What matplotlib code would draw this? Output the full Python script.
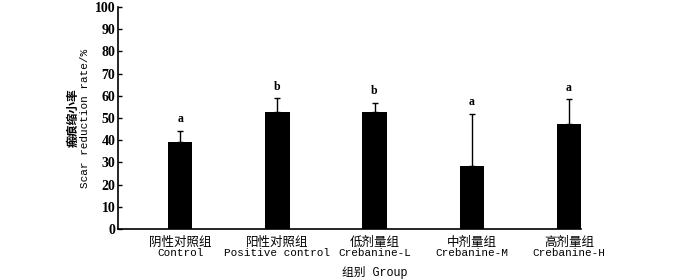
import matplotlib
matplotlib.use("Agg")
import matplotlib.pyplot as plt
import matplotlib.transforms as mtransforms
import numpy as np

groups_cn = ["阴性对照组", "阳性对照组", "低剂量组", "中剂量组", "高剂量组"]
groups_en = ["Control", "Positive control", "Crebanine-L", "Crebanine-M", "Crebanine-H"]
means = [39.3, 52.5, 52.8, 28.5, 47.4]
sds = [5.0, 6.4, 4.1, 23.3, 11.0]
letters = ["a", "b", "b", "a", "a"]
yticks = list(range(0, 101, 10))

cjk = ["Noto Sans CJK SC", "DejaVu Sans"]
mono = "Liberation Mono"

fig = plt.figure(figsize=(7, 2.8), dpi=100)
ax = fig.add_axes([0.1686, 0.182, 0.6614, 0.793])

x = np.arange(len(means))
ax.bar(x, means, width=0.25, color="black", zorder=2)
ax.errorbar(x, means, yerr=[np.zeros(len(sds)), sds], fmt="none",
            ecolor="black", elinewidth=1, capsize=2.5, capthick=1, zorder=1)
for xi, m, s, lt in zip(x, means, sds, letters):
    ax.text(xi, m + s + 2.5, lt, ha="center", va="bottom",
            family="Liberation Serif", fontweight="bold", fontsize=8.5)

ax.set_xlim(-0.64, 4.125)
ax.set_ylim(0, 100)
ax.set_yticks(yticks)
ax.set_yticklabels([str(t) for t in yticks], family="Liberation Serif",
                   fontsize=10, fontweight="bold")
ax.tick_params(axis="y", direction="in", length=3, width=1, pad=2)
ax.set_xticks(x)
ax.set_xticklabels(groups_cn, family=cjk, fontsize=9, fontweight="medium")
ax.tick_params(axis="x", length=0, pad=5)

# english line under each group name
trans = mtransforms.blended_transform_factory(ax.transData, fig.transFigure)
for xi, en in zip(x, groups_en):
    ax.text(xi, 0.098, en, transform=trans, ha="center", va="center",
            family=mono, fontsize=7.9)

for sp in ["top", "right"]:
    ax.spines[sp].set_visible(False)
ax.spines["left"].set_linewidth(1.2)
ax.spines["bottom"].set_linewidth(1.2)

fig.text(0.104, 0.579, "瘢痕缩小率", family=cjk, fontsize=8.5, fontweight="bold",
         rotation=90, ha="center", va="center")
fig.text(0.122, 0.577, "Scar reduction rate/%", family=mono, fontsize=7.9,
         rotation=90, ha="center", va="center")
fig.text(0.536, 0.028, "组别 Group", family=[mono] + cjk, fontsize=8.5,
         ha="center", va="center")

fig.savefig("out.png", dpi=100)
